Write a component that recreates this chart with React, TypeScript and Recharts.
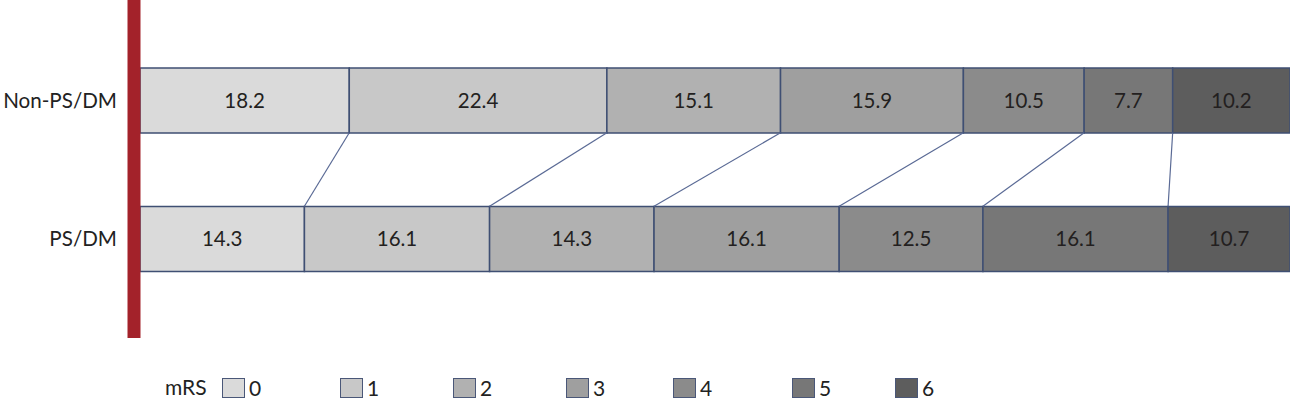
import React from 'react';
import { BarChart, Bar, XAxis, YAxis, LabelList, ReferenceLine, Legend } from 'recharts';

const groups = ['Non-PS/DM', 'PS/DM'];
const mrsLevels = ['0', '1', '2', '3', '4', '5', '6'];
const nonPsDm = [18.2, 22.4, 15.1, 15.9, 10.5, 7.7, 10.2];
const psDm = [14.3, 16.1, 14.3, 16.1, 12.5, 16.1, 10.7];
const colors = ['#dadada', '#c8c8c8', '#b1b1b1', '#9f9f9f', '#8b8b8b', '#777777', '#5d5d5d'];

const seriesByGroup = [nonPsDm, psDm];
const data = groups.map((g, gi) => {
  const row: Record<string, any> = { name: g };
  mrsLevels.forEach((m, i) => {
    row['s' + m] = seriesByGroup[gi][i];
  });
  return row;
});

const cumulative = (arr: number[]) => {
  const out: number[] = [];
  let s = 0;
  arr.forEach((v) => {
    s += v;
    out.push(s);
  });
  return out;
};
const cumNon = cumulative(nonPsDm).slice(0, 6);
const cumPs = cumulative(psDm).slice(0, 6);

const BAR_H = 65;
const FONT = 'Lato, "Open Sans", sans-serif';

const Connector = (props: any) => {
  const { x1, y1, x2, y2 } = props;
  if (x1 == null) return null;
  return (
    <line
      x1={x1}
      y1={y1 + BAR_H / 2}
      x2={x2}
      y2={y2 - BAR_H / 2}
      stroke="#5a6a95"
      strokeWidth={1.2}
    />
  );
};

const legendX = [222, 340, 453, 566, 673, 792, 895];

const LegendContent = () => (
  <div style={{ position: 'relative', width: 1294, height: 30, fontFamily: FONT, fontSize: 21, color: '#222' }}>
    <span style={{ position: 'absolute', left: 165, top: 0 }}>mRS</span>
    {mrsLevels.map((m, i) => (
      <div key={m} style={{ position: 'absolute', left: legendX[i], top: 1, display: 'flex', alignItems: 'center' }}>
        <span
          style={{
            display: 'inline-block',
            width: 23,
            height: 20,
            background: colors[i],
            border: '1.5px solid #4a5778',
            boxSizing: 'border-box',
          }}
        />
        <span style={{ marginLeft: 4 }}>{m}</span>
      </div>
    ))}
  </div>
);

export default function App() {
  return (
    <div style={{ position: 'absolute', left: 0, top: 0 }}>
      <BarChart
        width={1294}
        height={403}
        data={data}
        layout="vertical"
        margin={{ top: 0, right: 4, bottom: 65, left: 0 }}
        barCategoryGap={0}
      >
        <XAxis type="number" domain={[-0.52, 100]} allowDataOverflow hide />
        <YAxis
          type="category"
          dataKey="name"
          width={134}
          padding={{ top: 31, bottom: 30 }}
          axisLine={{ stroke: '#a3222a', strokeWidth: 13 }}
          tickLine={false}
          tickSize={0}
          tickMargin={17}
          tick={{ fill: '#222', fontSize: 20.6, fontFamily: FONT }}
        />
        {mrsLevels.map((m, i) => (
          <Bar
            key={m}
            dataKey={'s' + m}
            stackId="a"
            fill={colors[i]}
            stroke="#3f4f73"
            strokeWidth={1.5}
            barSize={BAR_H}
            isAnimationActive={false}
          >
            <LabelList
              dataKey={'s' + m}
              position="center"
              fill="#231f20"
              style={{ fontSize: 20.5, fontFamily: FONT }}
            />
          </Bar>
        ))}
        {cumNon.map((v, i) => (
          <ReferenceLine
            key={'c' + i}
            segment={[
              { x: v, y: groups[0] },
              { x: cumPs[i], y: groups[1] },
            ]}
            shape={Connector}
            ifOverflow="visible"
          />
        ))}
        <Legend
          layout="horizontal"
          verticalAlign="middle"
          content={LegendContent}
          wrapperStyle={{ position: 'absolute', left: 0, top: 374, width: 1294 }}
        />
      </BarChart>
    </div>
  );
}
